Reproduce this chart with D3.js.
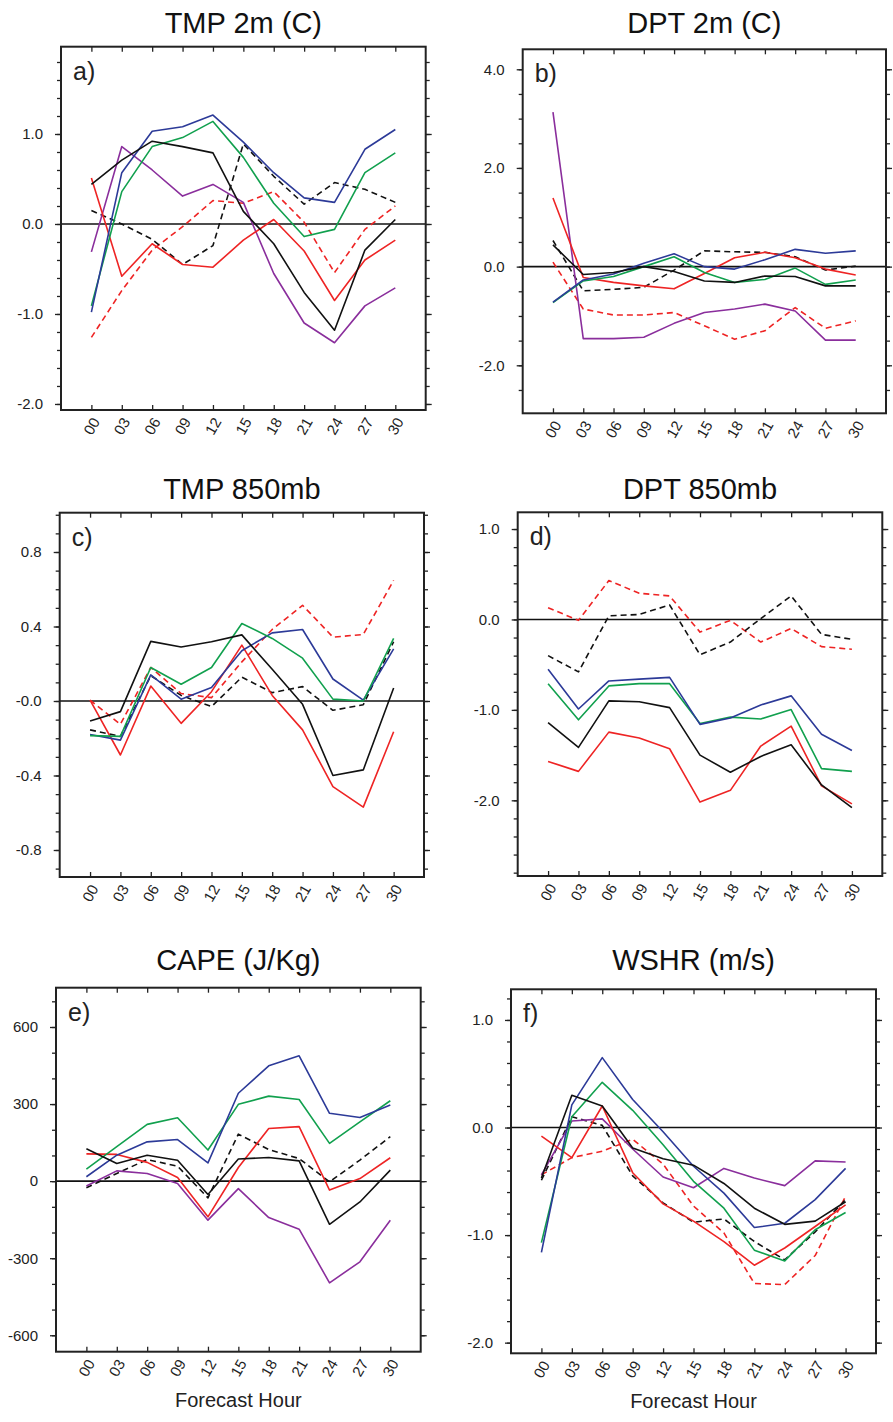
<!DOCTYPE html>
<html>
<head>
<meta charset="utf-8">
<script src="https://cdn.jsdelivr.net/npm/d3@7"></script>
<style>
  html, body { margin: 0; padding: 0; background: #fff; }
  svg { display: block; font-family: "Liberation Sans", Arial, Helvetica, sans-serif; }
</style>
</head>
<body>
<svg id="chart" width="893" height="1422"></svg>
<script>
// ---------------- DATA ----------------
const hours = [0, 3, 6, 9, 12, 15, 18, 21, 24, 27, 30];
const hourLabels = ["00", "03", "06", "09", "12", "15", "18", "21", "24", "27", "30"];
const seriesNames = ["blackSolid", "blackDash", "redSolid", "redDash", "blue", "green", "purple"];

// a) TMP 2m (C)
const tmp2mBlue   = [-0.98, 0.57, 1.03, 1.08, 1.21, 0.91, 0.57, 0.29, 0.24, 0.83, 1.05];
const tmp2mGreen  = [-0.91, 0.36, 0.86, 0.96, 1.14, 0.74, 0.23, -0.14, -0.06, 0.57, 0.79];
const tmp2mBlack  = [0.44, 0.71, 0.92, 0.86, 0.79, 0.14, -0.22, -0.76, -1.18, -0.29, 0.05];
const tmp2mPurple = [-0.31, 0.86, 0.60, 0.31, 0.44, 0.24, -0.55, -1.10, -1.32, -0.91, -0.71];
const tmp2mRed    = [0.51, -0.58, -0.22, -0.45, -0.48, -0.18, 0.05, -0.30, -0.85, -0.40, -0.18];
const tmp2mBlackDash = [0.15, 0.00, -0.17, -0.45, -0.24, 0.89, 0.53, 0.22, 0.46, 0.385, 0.24];
const tmp2mRedDash   = [-1.26, -0.74, -0.29, -0.03, 0.26, 0.23, 0.36, 0.02, -0.54, -0.06, 0.20];

// b) DPT 2m (C)
const dpt2mPurple = [3.13, -1.46, -1.46, -1.43, -1.15, -0.93, -0.86, -0.76, -0.90, -1.49, -1.49];
const dpt2mRed    = [1.39, -0.22, -0.32, -0.39, -0.45, -0.14, 0.18, 0.29, 0.18, -0.05, -0.17];
const dpt2mBlack  = [0.44, -0.16, -0.12, 0.00, -0.10, -0.29, -0.32, -0.19, -0.20, -0.39, -0.39];
const dpt2mBlackDash = [0.53, -0.49, -0.46, -0.42, -0.07, 0.32, 0.30, 0.29, 0.20, -0.07, 0.01];
const dpt2mBlue   = [-0.72, -0.27, -0.15, 0.07, 0.26, 0.00, -0.05, 0.14, 0.35, 0.27, 0.32];
const dpt2mGreen  = [-0.73, -0.29, -0.20, 0.00, 0.20, -0.12, -0.32, -0.26, -0.03, -0.36, -0.27];
const dpt2mRedDash = [0.09, -0.86, -0.98, -0.98, -0.93, -1.20, -1.47, -1.30, -0.83, -1.25, -1.10];

// c) TMP 850mb
const tmp850Black = [-0.107, -0.057, 0.32, 0.29, 0.318, 0.355, 0.17, -0.018, -0.40, -0.37, 0.07];
const tmp850Red   = [0.005, -0.29, 0.08, -0.12, 0.05, 0.30, 0.03, -0.155, -0.46, -0.57, -0.165];
const tmp850Green = [-0.186, -0.19, 0.18, 0.09, 0.18, 0.416, 0.336, 0.23, 0.01, 0.0, 0.336];
const tmp850Blue  = [-0.18, -0.21, 0.14, 0.01, 0.073, 0.27, 0.366, 0.384, 0.118, 0.005, 0.28];
const tmp850BlackDash = [-0.155, -0.19, 0.136, 0.03, -0.03, 0.128, 0.045, 0.077, -0.05, -0.02, 0.318];
const tmp850RedDash   = [0.005, -0.125, 0.18, 0.04, 0.018, 0.21, 0.384, 0.514, 0.343, 0.357, 0.648];

// d) DPT 850mb
const dpt850RedDash   = [0.13, -0.01, 0.43, 0.29, 0.26, -0.14, -0.01, -0.25, -0.10, -0.30, -0.33];
const dpt850BlackDash = [-0.40, -0.58, 0.04, 0.055, 0.16, -0.39, -0.25, 0.01, 0.26, -0.165, -0.22];
const dpt850Blue  = [-0.55, -0.99, -0.68, -0.66, -0.64, -1.16, -1.09, -0.945, -0.845, -1.27, -1.45];
const dpt850Green = [-0.71, -1.11, -0.735, -0.71, -0.71, -1.15, -1.08, -1.10, -0.996, -1.65, -1.68];
const dpt850Black = [-1.14, -1.415, -0.90, -0.91, -0.975, -1.50, -1.69, -1.515, -1.386, -1.83, -2.08];
const dpt850Red   = [-1.57, -1.68, -1.246, -1.31, -1.43, -2.02, -1.89, -1.40, -1.18, -1.84, -2.04];

// e) CAPE (J/Kg)
const capeBlue   = [17, 101, 153, 162, 71, 342, 449, 488, 264, 248, 296];
const capeGreen  = [47, 134, 221, 247, 121, 299, 331, 318, 147, 231, 313];
const capeRed    = [106, 104, 73, 14, -139, 53, 205, 212, -35, 10, 91];
const capeBlack  = [126, 69, 101, 81, -52, 86, 92, 79, -168, -81, 43];
const capeBlackDash = [-26, 30, 84, 58, -65, 183, 123, 88, -3, 82, 173];
const capePurple = [-19, 40, 30, -9, -152, -29, -142, -187, -396, -314, -152];

// f) WSHR (m/s)
const wshrBlue   = [-1.16, 0.21, 0.65, 0.26, -0.04, -0.36, -0.61, -0.93, -0.89, -0.67, -0.38];
const wshrGreen  = [-1.07, 0.10, 0.42, 0.16, -0.16, -0.50, -0.75, -1.14, -1.24, -0.95, -0.79];
const wshrBlack  = [-0.47, 0.30, 0.20, -0.19, -0.29, -0.35, -0.52, -0.75, -0.90, -0.87, -0.69];
const wshrPurple = [-0.44, 0.06, 0.08, -0.20, -0.46, -0.56, -0.38, -0.47, -0.54, -0.31, -0.32];
const wshrRed    = [-0.08, -0.28, 0.20, -0.42, -0.71, -0.87, -1.06, -1.28, -1.12, -0.92, -0.72];
const wshrBlackDash = [-0.49, 0.10, 0.02, -0.45, -0.70, -0.88, -0.85, -1.06, -1.23, -0.97, -0.67];
const wshrRedDash   = [-0.44, -0.28, -0.22, -0.11, -0.34, -0.73, -0.98, -1.45, -1.46, -1.19, -0.64];

// Tick values / labels
const tmp2mTicks = [-2, -1, 0, 1];          const tmp2mTickLabels = ["-2.0", "-1.0", "0.0", "1.0"];
const dpt2mTicks = [-2, 0, 2, 4];           const dpt2mTickLabels = ["-2.0", "0.0", "2.0", "4.0"];
const tmp850Ticks = [-0.8, -0.4, 0, 0.4, 0.8]; const tmp850TickLabels = ["-0.8", "-0.4", "-0.0", "0.4", "0.8"];
const dpt850Ticks = [-2, -1, 0, 1];         const dpt850TickLabels = ["-2.0", "-1.0", "0.0", "1.0"];
const capeTicks = [-600, -300, 0, 300, 600]; const capeTickLabels = ["-600", "-300", "0", "300", "600"];
const wshrTicks = [-2, -1, 0, 1];           const wshrTickLabels = ["-2.0", "-1.0", "0.0", "1.0"];

// ---------------- STYLES ----------------
const styles = {
  blackSolid: { color: "#111111", dash: null },
  blackDash:  { color: "#111111", dash: "6,4" },
  redSolid:   { color: "#ee2424", dash: null },
  redDash:    { color: "#ee2424", dash: "6,4" },
  blue:       { color: "#2c3a98", dash: null },
  green:      { color: "#11a04e", dash: null },
  purple:     { color: "#8a2e9c", dash: null }
};

// ---------------- PANELS ----------------
const panels = [
  { title: "TMP 2m (C)", label: "a)", L: 61, R: 425.7, T: 46.7, B: 410, yDom: [-2.067, 1.97], minor: 0.2,
    ticks: tmp2mTicks, tickLabels: tmp2mTickLabels, titleY: 33, xTitle: false,
    series: [["redDash", tmp2mRedDash], ["blackDash", tmp2mBlackDash], ["purple", tmp2mPurple],
             ["redSolid", tmp2mRed], ["green", tmp2mGreen], ["blue", tmp2mBlue], ["blackSolid", tmp2mBlack]] },
  { title: "DPT 2m (C)", label: "b)", L: 522.7, R: 886, T: 49.3, B: 413.3, yDom: [-2.973, 4.405], minor: 0.5,
    ticks: dpt2mTicks, tickLabels: dpt2mTickLabels, titleY: 32.5, xTitle: false,
    series: [["redDash", dpt2mRedDash], ["blackDash", dpt2mBlackDash], ["purple", dpt2mPurple],
             ["redSolid", dpt2mRed], ["green", dpt2mGreen], ["blue", dpt2mBlue], ["blackSolid", dpt2mBlack]] },
  { title: "TMP 850mb", label: "c)", L: 59.7, R: 424, T: 512.7, B: 877, yDom: [-0.945, 1.011], minor: 0.1,
    ticks: tmp850Ticks, tickLabels: tmp850TickLabels, titleY: 499, xTitle: false,
    series: [["redDash", tmp850RedDash], ["blackDash", tmp850BlackDash],
             ["redSolid", tmp850Red], ["blue", tmp850Blue], ["green", tmp850Green], ["blackSolid", tmp850Black]] },
  { title: "DPT 850mb", label: "d)", L: 517.7, R: 882.3, T: 512.3, B: 876, yDom: [-2.837, 1.185], minor: 0.2,
    ticks: dpt850Ticks, tickLabels: dpt850TickLabels, titleY: 498.5, xTitle: false,
    series: [["redDash", dpt850RedDash], ["blackDash", dpt850BlackDash],
             ["redSolid", dpt850Red], ["green", dpt850Green], ["blue", dpt850Blue], ["blackSolid", dpt850Black]] },
  { title: "CAPE (J/Kg)", label: "e)", L: 56, R: 420.7, T: 987.7, B: 1351.7, yDom: [-664, 753], minor: 100,
    ticks: capeTicks, tickLabels: capeTickLabels, titleY: 969.5, xTitle: true,
    series: [["blackDash", capeBlackDash], ["purple", capePurple], ["redSolid", capeRed],
             ["green", capeGreen], ["blue", capeBlue], ["blackSolid", capeBlack]] },
  { title: "WSHR (m/s)", label: "f)", L: 511, R: 876, T: 989.3, B: 1353.3, yDom: [-2.099, 1.285], minor: 0.2,
    ticks: wshrTicks, tickLabels: wshrTickLabels, titleY: 970, xTitle: true,
    series: [["redDash", wshrRedDash], ["blackDash", wshrBlackDash], ["purple", wshrPurple],
             ["redSolid", wshrRed], ["green", wshrGreen], ["blue", wshrBlue], ["blackSolid", wshrBlack]] }
];

const svg = d3.select("#chart");

panels.forEach(p => {
  const g = svg.append("g");
  const x = d3.scaleLinear().domain([-3, 33]).range([p.L, p.R]);
  const y = d3.scaleLinear().domain(p.yDom).range([p.B, p.T]);

  // minor y ticks
  const minorTicks = d3.range(Math.ceil(p.yDom[0] / p.minor - 1e-6), Math.floor(p.yDom[1] / p.minor + 1e-6) + 1)
    .map(k => +(k * p.minor).toFixed(6));

  // Left axis (outward ticks)
  const leftMinor = d3.axisLeft(y).tickValues(minorTicks).tickSize(4).tickFormat("");
  g.append("g").attr("transform", `translate(${p.L},0)`).call(leftMinor);
  const leftMajor = d3.axisLeft(y).tickValues(p.ticks).tickSize(6).tickPadding(12)
    .tickFormat((d, i) => p.tickLabels[i]);
  g.append("g").attr("class", "ymaj").attr("transform", `translate(${p.L},0)`).call(leftMajor);

  // Right axis (outward ticks, no labels)
  g.append("g").attr("transform", `translate(${p.R},0)`).call(d3.axisRight(y).tickValues(minorTicks).tickSize(4).tickFormat(""));
  g.append("g").attr("transform", `translate(${p.R},0)`).call(d3.axisRight(y).tickValues(p.ticks).tickSize(6).tickFormat(""));

  // Bottom / top x ticks (inward)
  const bottom = d3.axisBottom(x).tickValues(hours).tickSize(-5).tickFormat("");
  g.append("g").attr("transform", `translate(0,${p.B})`).call(bottom);
  g.append("g").attr("transform", `translate(0,${p.T})`).call(d3.axisTop(x).tickValues(hours).tickSize(-5).tickFormat(""));

  g.selectAll(".domain").remove();
  g.selectAll(".tick line").attr("stroke", "#222").attr("stroke-width", 1.3);
  g.selectAll(".ymaj text").attr("font-size", 15).attr("fill", "#222")
    .attr("font-family", '"Liberation Sans", Arial, sans-serif');

  // rotated x labels
  g.append("g").selectAll("text").data(hours).join("text")
    .attr("transform", d => `translate(${x(d)},${p.B + 16}) rotate(-60)`)
    .attr("text-anchor", "middle")
    .attr("dominant-baseline", "central")
    .attr("font-size", 15).attr("fill", "#222")
    .text((d, i) => hourLabels[i]);

  // zero line
  g.append("line").attr("x1", p.L).attr("x2", p.R).attr("y1", y(0)).attr("y2", y(0))
    .attr("stroke", "#111").attr("stroke-width", 1.6);

  // series lines
  const line = d3.line().x((d, i) => x(hours[i])).y(d => y(d));
  p.series.forEach(([name, vals]) => {
    const st = styles[name];
    g.append("path").datum(vals)
      .attr("d", line)
      .attr("fill", "none")
      .attr("stroke", st.color)
      .attr("stroke-width", 1.6)
      .attr("stroke-linejoin", "round")
      .attr("stroke-dasharray", st.dash);
  });

  // frame
  g.append("rect").attr("x", p.L).attr("y", p.T).attr("width", p.R - p.L).attr("height", p.B - p.T)
    .attr("fill", "none").attr("stroke", "#222").attr("stroke-width", 2);

  // panel label
  g.append("text").attr("x", p.L + 12).attr("y", p.T + 33)
    .attr("font-size", 25).attr("fill", "#222").text(p.label);

  // title
  g.append("text").attr("x", (p.L + p.R) / 2).attr("y", p.titleY)
    .attr("text-anchor", "middle").attr("font-size", 29).attr("fill", "#111").text(p.title);

  if (p.xTitle) {
    g.append("text").attr("x", (p.L + p.R) / 2).attr("y", p.B + 55)
      .attr("text-anchor", "middle").attr("font-size", 20).attr("fill", "#222").text("Forecast Hour");
  }
});
</script>
</body>
</html>
